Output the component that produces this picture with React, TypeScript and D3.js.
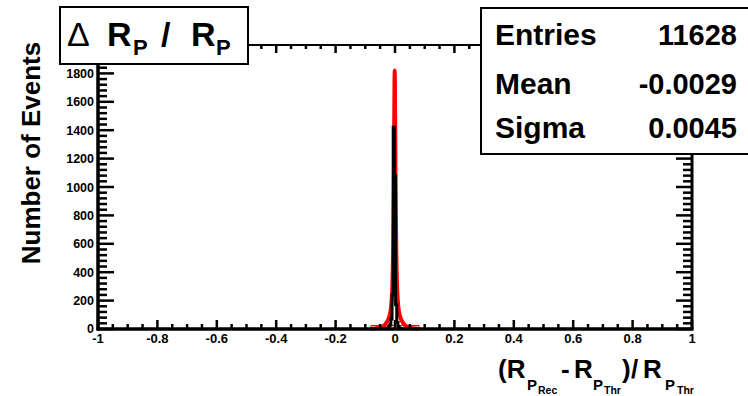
import React from "react";
import * as d3 from "d3";

const xTickValues = [-1, -0.8, -0.6, -0.4, -0.2, 0, 0.2, 0.4, 0.6, 0.8, 1];
const xTickLabels = ["-1", "-0.8", "-0.6", "-0.4", "-0.2", "0", "0.2", "0.4", "0.6", "0.8", "1"];
const yTickValues = [0, 200, 400, 600, 800, 1000, 1200, 1400, 1600, 1800];
const yTickLabels = ["0", "200", "400", "600", "800", "1000", "1200", "1400", "1600", "1800"];

const blackBinWidth = 0.004;
const blackBinCenters = [-0.028, -0.024, -0.02, -0.016, -0.012, -0.008, -0.004, 0, 0.004, 0.008, 0.012, 0.016, 0.02];
const blackCounts = [2, 5, 12, 28, 70, 240, 1420, 1080, 170, 45, 15, 6, 2];

const redX = [-0.081, -0.071, -0.051, -0.036, -0.027, -0.019, -0.013, -0.009, -0.006, -0.004, -0.0025, -0.001, 0.0005, 0.002, 0.004, 0.007, 0.011, 0.017, 0.025, 0.034, 0.049, 0.069, 0.079];
const redY = [0, 3, 10, 25, 50, 90, 160, 300, 600, 1000, 1500, 1820, 1500, 1000, 600, 300, 160, 90, 50, 25, 10, 3, 0];
const redBaseX = [-0.081, 0.081];
const redBaseLevel = 25;

const statNames = ["Entries", "Mean", "Sigma"];
const statValues = ["11628", "-0.0029", "0.0045"];

const FONT = "'Liberation Sans', Arial, Helvetica, sans-serif";

export default function App() {
  const W = 748, H = 396;
  const left = 98, right = 692, top = 45, bottom = 329;
  const x = d3.scaleLinear().domain([-1, 1]).range([left, right]);
  const y = d3.scaleLinear().domain([0, 2000]).range([bottom, top]);

  const xMinor = d3.range(-1, 1.0001, 0.05);
  const yMinor = d3.range(0, 2000.001, 40);

  const pts: [number, number][] = [];
  blackBinCenters.forEach((c, i) => {
    const lo = c - blackBinWidth / 2, hi = c + blackBinWidth / 2;
    if (i === 0) pts.push([lo, 0]);
    pts.push([lo, blackCounts[i]]);
    pts.push([hi, blackCounts[i]]);
    if (i === blackBinCenters.length - 1) pts.push([hi, 0]);
  });
  const lineLin = d3.line<[number, number]>().x(d => x(d[0])).y(d => y(d[1]));
  const blackPath = lineLin(pts) || "";

  const redPts: [number, number][] = redX.map((v, i) => [v, redY[i]]);
  const redPath = d3.line<[number, number]>().x(d => x(d[0])).y(d => y(d[1])).curve(d3.curveMonotoneX)(redPts) || "";
  const redBase = lineLin([[redBaseX[0], 0], [redBaseX[0], redBaseLevel], [redBaseX[1], redBaseLevel], [redBaseX[1], 0]]) || "";

  const isMajorX = (v: number) => Math.abs(Math.round(v * 5) - v * 5) < 1e-6;
  const isMajorY = (v: number) => Math.round(v) % 200 === 0;

  return (
    <svg width={W} height={H} style={{ position: "absolute", left: 0, top: 0, background: "#fff" }} fontFamily={FONT}>
      <rect x={0} y={0} width={W} height={H} fill="#fff" />
      <path d={redBase} fill="none" stroke="#e00" strokeWidth={1} />
      <path d={redPath} fill="none" stroke="#ff0000" strokeWidth={4} strokeLinejoin="round" />
      <path d={blackPath} fill="none" stroke="#000" strokeWidth={3} />

      {xMinor.map((v, i) => {
        const major = isMajorX(v);
        const px = x(v);
        return (
          <g key={"xt" + i}>
            <line x1={px} x2={px} y1={bottom} y2={bottom - (major ? 9 : 5)} stroke="#000" strokeWidth={2.5} />
            <line x1={px} x2={px} y1={top} y2={top + (major ? 8 : 4)} stroke="#000" strokeWidth={2.5} />
          </g>
        );
      })}
      {yMinor.map((v, i) => {
        const major = isMajorY(v);
        const py = y(v);
        return (
          <g key={"yt" + i}>
            <line x1={left} x2={left + (major ? 16 : 9)} y1={py} y2={py} stroke="#000" strokeWidth={2.5} />
            <line x1={right} x2={right - (major ? 16 : 9)} y1={py} y2={py} stroke="#000" strokeWidth={2.5} />
          </g>
        );
      })}

      <line x1={left} x2={right} y1={top} y2={top} stroke="#000" strokeWidth={2} />
      <line x1={right} x2={right} y1={top} y2={bottom} stroke="#000" strokeWidth={3} />
      <line x1={left} x2={left} y1={top} y2={bottom + 1.5} stroke="#000" strokeWidth={3.5} />
      <line x1={left - 1.5} x2={right + 1.5} y1={bottom} y2={bottom} stroke="#000" strokeWidth={3.5} />

      {xTickValues.map((v, i) => (
        <text key={"xl" + i} x={x(v)} y={343} textAnchor="middle" fontSize={13} fontWeight="bold">{xTickLabels[i]}</text>
      ))}
      {yTickValues.map((v, i) => (
        <text key={"yl" + i} x={94} y={y(v) + (v === 0 ? 4 : 4.5)} textAnchor="end" fontSize={12.5} fontWeight="bold">{yTickLabels[i]}</text>
      ))}

      <text transform="translate(40,153) rotate(-90)" textAnchor="middle" fontSize={26} fontWeight="bold">Number of Events</text>

      <text fontWeight="bold" fontSize={26}>
        <tspan x={498} y={378}>(R</tspan>
        <tspan x={527} y={390} fontSize={15}>P</tspan>
        <tspan x={538} y={393.5} fontSize={10.5}>Rec</tspan>
        <tspan x={561} y={378}>-</tspan>
        <tspan x={574} y={378}>R</tspan>
        <tspan x={593} y={390} fontSize={15}>P</tspan>
        <tspan x={604} y={393.5} fontSize={10.5}>Thr</tspan>
        <tspan x={622} y={378}>)</tspan>
        <tspan x={631} y={378}>/</tspan>
        <tspan x={643} y={378}>R</tspan>
        <tspan x={665} y={390} fontSize={15}>P</tspan>
        <tspan x={677} y={393.5} fontSize={10.5}>Thr</tspan>
      </text>

      <rect x={60} y={7} width={188} height={57} fill="#fff" stroke="#000" strokeWidth={2} />
      <text fontSize={34}>
        <tspan x={67} y={45.5}>Δ</tspan>
        <tspan x={107} y={45.5} fontWeight="bold">R</tspan>
        <tspan x={133} y={54.5} fontWeight="bold" fontSize={22}>P</tspan>
        <tspan x={161} y={45.5} fontWeight="bold">/</tspan>
        <tspan x={191} y={45.5} fontWeight="bold">R</tspan>
        <tspan x={216} y={54.5} fontWeight="bold" fontSize={22}>P</tspan>
      </text>

      <rect x={481} y={8} width={280} height={146} fill="#fff" stroke="#000" strokeWidth={2} />
      {statNames.map((n, i) => (
        <g key={"st" + i}>
          <text x={495} y={[45, 94, 138][i]} fontSize={30} fontWeight="bold">{n}</text>
          <text x={737} y={[45, 94, 138][i]} fontSize={29} fontWeight="bold" textAnchor="end">{statValues[i]}</text>
        </g>
      ))}
    </svg>
  );
}
